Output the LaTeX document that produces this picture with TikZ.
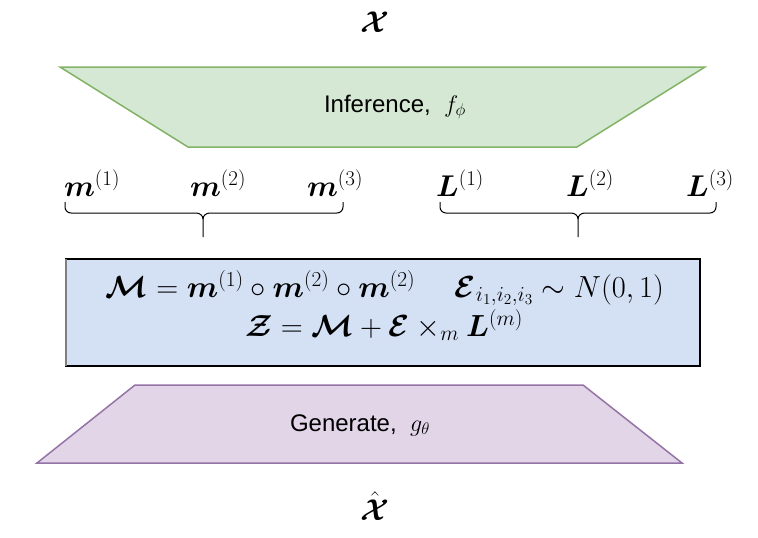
\RequirePackage{fix-cm}
\documentclass[tikz,border=0pt]{standalone}
\usepackage{amsmath,bm}
\usepackage{fontspec}
\setsansfont{Liberation Sans}
\definecolor{gfill}{HTML}{D5E8D4}
\definecolor{gdraw}{HTML}{82B366}
\definecolor{pfill}{HTML}{E1D5E7}
\definecolor{pdraw}{HTML}{9673A6}
\definecolor{bfill}{HTML}{D4E1F5}
\tikzset{
  lbl/.style={inner sep=0pt, font=\fontsize{30}{34}\selectfont},
  eqn/.style={inner sep=0pt, font=\fontsize{30.5}{34}\selectfont},
  sans/.style={inner sep=0pt, font=\sffamily\fontsize{24}{28}\selectfont},
  bracket/.style={draw=black, line width=1pt},
}
\begin{document}
\begin{tikzpicture}[x=1pt,y=-1pt]
\useasboundingbox (0,0) rectangle (758,538);
% top X
\node[lbl] (X) at (375,22) {$\bm{\mathcal{X}}$};
% inference trapezoid
\filldraw[fill=gfill, draw=gdraw, line width=1.5pt] (60,67) -- (705,67) -- (577,147) -- (188,147) -- cycle;
\node[sans] (inf) at (395,107) {Inference,\ \ $f_\phi$};
% labels
\node[lbl] (m1) at (92,183) {$\bm{m}^{(1)}$};
\node[lbl] (m2) at (218,183) {$\bm{m}^{(2)}$};
\node[lbl] (m3) at (335,183) {$\bm{m}^{(3)}$};
\node[lbl] (L1) at (460,183) {$\bm{L}^{(1)}$};
\node[lbl] (L2) at (590,183) {$\bm{L}^{(2)}$};
\node[lbl] (L3) at (710,183) {$\bm{L}^{(3)}$};
% braces
\coordinate (bl1) at (65,202);
\coordinate (br1) at (343,202);
\coordinate (bt1) at (203,237);
\draw[bracket] (bl1) -- (65,207) to[out=-90,in=180] (71,213) -- (196,213) to[out=0,in=90] (203,219) -- (bt1);
\draw[bracket] (br1) -- (343,207) to[out=-90,in=0] (337,213) -- (210,213) to[out=180,in=90] (203,219);
\coordinate (bl2) at (440,202);
\coordinate (br2) at (716,202);
\coordinate (bt2) at (578,237);
\draw[bracket] (bl2) -- (440,207) to[out=-90,in=180] (446,213) -- (571,213) to[out=0,in=90] (578,219) -- (bt2);
\draw[bracket] (br2) -- (716,207) to[out=-90,in=0] (710,213) -- (585,213) to[out=180,in=90] (578,219);
% blue box
\filldraw[fill=bfill, draw=black, line width=1.5pt] (66,259) rectangle (700,366);
\draw[draw=gray, line width=1.5pt] (66,259) -- (66,366);
\node[eqn] (eq1) at (385,288) {$\bm{\mathcal{M}} = \bm{m}^{(1)} \circ \bm{m}^{(2)} \circ \bm{m}^{(2)} \hspace{1.3em} \bm{\mathcal{E}}_{i_1,i_2,i_3} \sim N(0,1)$};
\node[eqn] (eq2) at (384,325) {$\bm{\mathcal{Z}} = \bm{\mathcal{M}} + \bm{\mathcal{E}} \times_m \bm{L}^{(m)}$};
% generate trapezoid
\filldraw[fill=pfill, draw=pdraw, line width=1.5pt] (135,385) -- (583,385) -- (682,463) -- (37,463) -- cycle;
\node[sans] (gen) at (360,425) {Generate,\ \ $g_\theta$};
\node[lbl, anchor=base] (Xh) at (375,520) {$\hat{\bm{\mathcal{X}}}$};
\end{tikzpicture}
\end{document}
